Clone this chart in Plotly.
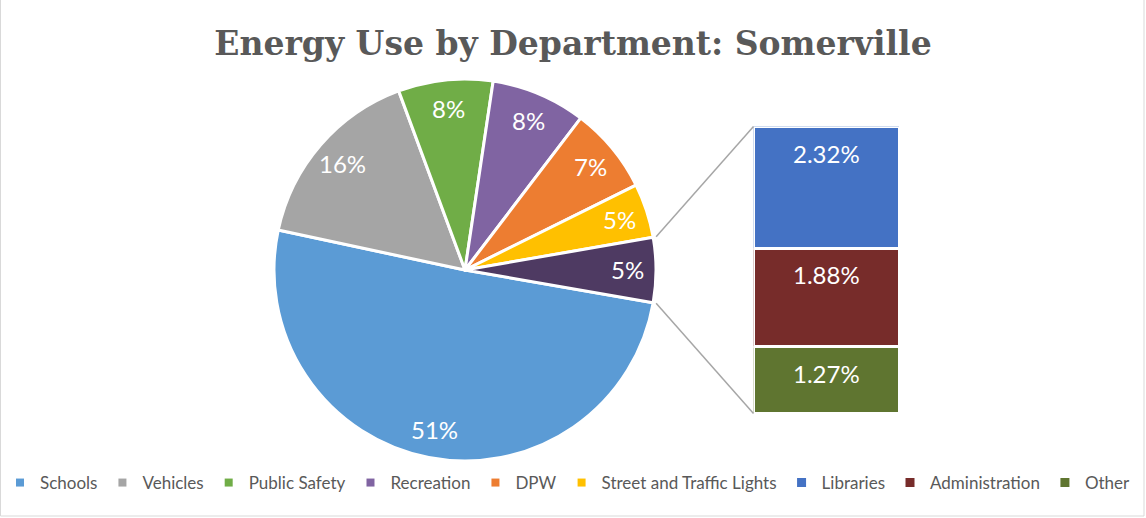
import math
import plotly.graph_objects as go

# ---------------- data ----------------
pie_departments = ["Schools", "Vehicles", "Public Safety", "Recreation", "DPW",
                   "Street and Traffic Lights"]
pie_shares = [50.6, 16.0, 8.0, 8.0, 7.3, 4.6]          # percent of total energy use
bar_departments = ["Libraries", "Administration", "Other"]
bar_shares = [2.32, 1.88, 1.27]                        # percent, split out of the pie
combined_label = "Other departments"

title_text = "Energy Use by Department: Somerville"

# ---------------- styles ----------------
pie_colors = ["#5B9BD5", "#A5A5A5", "#70AD47", "#8064A2", "#ED7D31", "#FFC000"]
combined_color = "#4E3A62"
bar_colors = ["#4472C4", "#772C2A", "#5F7530"]
connector_color = "#A6A6A6"
text_grey = "#595959"
label_font = "Lato"

W, H = 1146, 518
PIE_CX, PIE_CY, PIE_R = 465, 270, 191                  # pixel layout of the pie
BAR_X0, BAR_X1 = 753.5, 899.5                          # pixel layout of the bar
BAR_TOP, BAR_BOTTOM = 126.5, 413.5
LABEL_RADIUS = 0.85

combined_value = sum(bar_shares)
pie_labels = pie_departments + [combined_label]
pie_values = pie_shares + [combined_value]
pie_total = sum(pie_values)
rotation = 90 + combined_value / pie_total * 180      # centre the combined slice at 3 o'clock

pie_domain_x = [(PIE_CX - PIE_R) / W, (PIE_CX + PIE_R) / W]
pie_domain_y = [(H - PIE_CY - PIE_R) / H, (H - PIE_CY + PIE_R) / H]
bar_domain_x = [BAR_X0 / W, BAR_X1 / W]
bar_domain_y = [(H - BAR_BOTTOM) / H, (H - BAR_TOP) / H]

fig = go.Figure()

fig.add_trace(go.Pie(
    labels=pie_labels, values=pie_values, sort=False, direction="clockwise",
    rotation=rotation,
    marker=dict(colors=pie_colors + [combined_color], line=dict(color="white", width=3)),
    textinfo="none", showlegend=False, domain=dict(x=pie_domain_x, y=pie_domain_y),
    hovertemplate="%{label}: %{percent}<extra></extra>",
))

# stacked bar (bottom to top: Other, Administration, Libraries)
for rank, (name, val, col) in reversed(list(enumerate(zip(bar_departments, bar_shares, bar_colors)))):
    fig.add_trace(go.Bar(
        x=[0], y=[val], name=name, width=1, marker=dict(color=col, line=dict(color="white", width=3)),
        legendrank=100 + rank * 10 + len(pie_departments) * 10, showlegend=True,
        hovertemplate=name + ": %{y:.2f}%<extra></extra>",
    ))

# legend entries for pie departments
for i, (name, col) in enumerate(zip(pie_departments, pie_colors)):
    fig.add_trace(go.Scatter(
        x=[None], y=[None], mode="markers", name=name,
        marker=dict(symbol="square", size=8, color=col),
        legendrank=100 + i * 10, showlegend=True,
    ))

annotations = []
# pie percentage labels
cum = 0.0
for v in pie_values:
    mid = math.radians(rotation + (cum + v / 2) / pie_total * 360)
    cum += v
    px = PIE_CX + LABEL_RADIUS * PIE_R * math.sin(mid)
    py = PIE_CY - LABEL_RADIUS * PIE_R * math.cos(mid)
    annotations.append(dict(
        x=px / W, y=1 - py / H, xref="paper", yref="paper", showarrow=False,
        text=f"{round(v / pie_total * 100)}%",
        font=dict(family=label_font, size=24, color="white"),
        xanchor="center", yanchor="middle",
    ))

# bar percentage labels
top = 0.0
tops = []
for v in reversed(bar_shares):
    top += v
    tops.append(top)
tops = list(reversed(tops))
for v, t in zip(bar_shares, tops):
    annotations.append(dict(
        x=0, y=t, xref="x", yref="y", showarrow=False, yanchor="top", yshift=-10,
        text=f"{v:.2f}%", font=dict(family=label_font, size=24, color="white"),
    ))

# connector lines from the combined slice to the bar
shapes = []
slice_start = math.radians(rotation - combined_value / pie_total * 360)
slice_end = math.radians(rotation)
for ang, ypix in [(slice_start, BAR_TOP), (slice_end, BAR_BOTTOM)]:
    sx = PIE_CX + (PIE_R + 3) * math.sin(ang)
    sy = PIE_CY - (PIE_R + 3) * math.cos(ang)
    shapes.append(dict(
        type="line", xref="paper", yref="paper",
        x0=sx / W, y0=1 - sy / H, x1=bar_domain_x[0], y1=1 - ypix / H,
        line=dict(color=connector_color, width=1.5),
    ))
# chart-area border
shapes.append(dict(type="rect", xref="paper", yref="paper",
                   x0=0.5 / W, x1=1144 / W, y0=(H - 516) / H, y1=1.02,
                   line=dict(color="#D9D9D9", width=1), fillcolor="rgba(0,0,0,0)", layer="below"))

fig.update_layout(
    width=W, height=H, margin=dict(l=0, r=0, t=0, b=0),
    paper_bgcolor="white", plot_bgcolor="white",
    barmode="stack", bargap=0,
    title=dict(text=title_text, x=0.5, xanchor="center", y=1 - 43 / H, yanchor="middle",
               font=dict(family="DejaVu Serif", size=33, color=text_grey, weight="bold")),
    xaxis=dict(domain=bar_domain_x, range=[-0.5, 0.5], visible=False, fixedrange=True),
    yaxis=dict(domain=bar_domain_y, range=[0, combined_value], visible=False, fixedrange=True),
    legend=dict(orientation="h", x=0, xanchor="left", y=1 - 483 / H, yanchor="middle",
                font=dict(family=label_font, size=17, color=text_grey),
                itemwidth=30, bgcolor="rgba(0,0,0,0)", traceorder="normal"),
    annotations=annotations, shapes=shapes,
    showlegend=True,
)

fig.write_html("out.html", config={"displayModeBar": False},
               post_script="document.body.style.margin='0';")
